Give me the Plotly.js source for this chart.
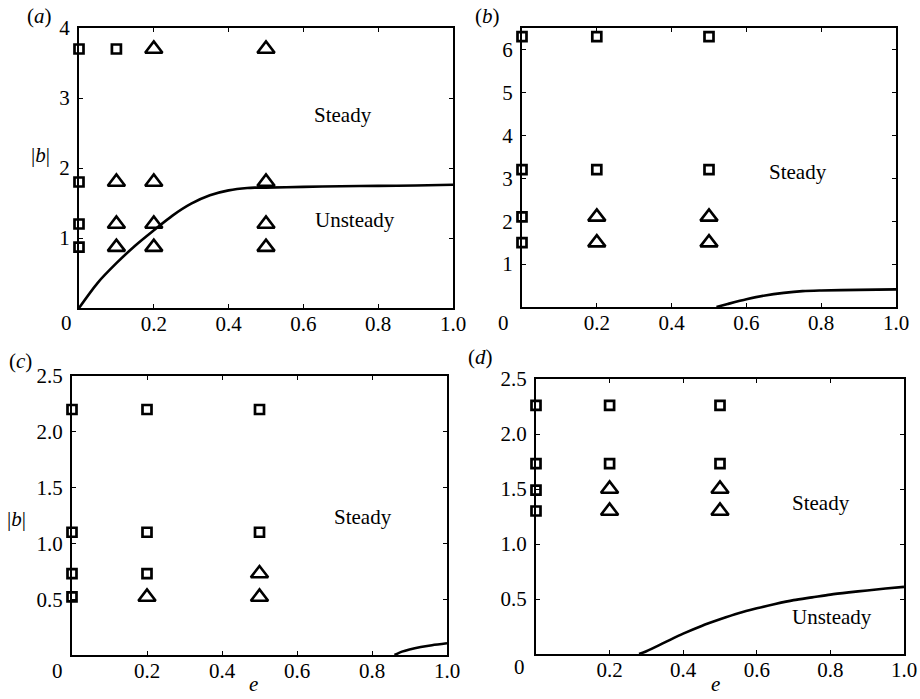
<!DOCTYPE html>
<html>
<head>
<meta charset="utf-8">
<script src="https://cdn.plot.ly/plotly-3.0.1.min.js"></script>
<style>html,body{margin:0;padding:0;background:#fff;}#plot{width:920px;height:699px;}</style>
</head>
<body>
<div id="plot"></div>
<script>
// ---------- data ----------
// panel (a)
const aSquareE = [0, 0.1, 0, 0, 0];
const aSquareB = [3.7, 3.7, 1.8, 1.2, 0.87];
const aTriE = [0.2, 0.5, 0.1, 0.2, 0.5, 0.1, 0.2, 0.5, 0.1, 0.2, 0.5];
const aTriB = [3.7, 3.7, 1.8, 1.8, 1.8, 1.2, 1.2, 1.2, 0.87, 0.87, 0.87];
const aCurveE = [0, 0.05, 0.1, 0.15, 0.2, 0.25, 0.3, 0.35, 0.4, 0.45, 0.47, 0.5, 0.6, 0.7, 0.8, 0.9, 1.0];
const aCurveB = [0, 0.36, 0.64, 0.89, 1.11, 1.32, 1.49, 1.61, 1.68, 1.715, 1.72, 1.72, 1.73, 1.74, 1.745, 1.75, 1.76];
// panel (b)
const bSquareE = [0, 0, 0, 0, 0.2, 0.2, 0.5, 0.5];
const bSquareB = [6.3, 3.2, 2.1, 1.5, 6.3, 3.2, 6.3, 3.2];
const bTriE = [0.2, 0.2, 0.5, 0.5];
const bTriB = [2.1, 1.5, 2.1, 1.5];
const bCurveE = [0.52, 0.55, 0.6, 0.65, 0.7, 0.75, 0.8, 0.9, 1.0];
const bCurveB = [0, 0.07, 0.18, 0.27, 0.33, 0.37, 0.385, 0.4, 0.41];
// panel (c)
const cSquareE = [0, 0, 0, 0, 0.2, 0.2, 0.2, 0.5, 0.5];
const cSquareB = [2.2, 1.1, 0.73, 0.52, 2.2, 1.1, 0.73, 2.2, 1.1];
const cTriE = [0.2, 0.5, 0.5];
const cTriB = [0.52, 0.73, 0.52];
const cCurveE = [0.86, 0.88, 0.9, 0.93, 0.96, 1.0];
const cCurveB = [0, 0.03, 0.05, 0.072, 0.088, 0.105];
// panel (d)
const dSquareE = [0, 0, 0, 0, 0.2, 0.2, 0.5, 0.5];
const dSquareB = [2.26, 1.73, 1.49, 1.3, 2.26, 1.73, 2.26, 1.73];
const dTriE = [0.2, 0.2, 0.5, 0.5];
const dTriB = [1.5, 1.3, 1.5, 1.3];
const dCurveE = [0.28, 0.3, 0.35, 0.4, 0.45, 0.5, 0.55, 0.6, 0.65, 0.7, 0.75, 0.8, 0.85, 0.9, 0.95, 1.0];
const dCurveB = [0, 0.025, 0.105, 0.185, 0.255, 0.315, 0.37, 0.415, 0.455, 0.49, 0.515, 0.54, 0.56, 0.578, 0.595, 0.61];
// ticks
const xTickVals = [0.2, 0.4, 0.6, 0.8, 1.0];
const xTickText = ['0.2', '0.4', '0.6', '0.8', '1.0'];
const yTickValsA = [1, 2, 3, 4];
const yTickTextA = ['1', '2', '3', '4'];
const yTickValsB = [1, 2, 3, 4, 5, 6];
const yTickTextB = ['1', '2', '3', '4', '5', '6'];
const yTickValsCD = [0.5, 1.0, 1.5, 2.0, 2.5];
const yTickTextCD = ['0.5', '1.0', '1.5', '2.0', '2.5'];
const panelLabels = ['(<i>a</i>)', '(<i>b</i>)', '(<i>c</i>)', '(<i>d</i>)'];

// ---------- layout helpers ----------
const W = 920, H = 699;
const FONT = 'Liberation Serif';
const FS = 21;
const fx = p => p / W;
const fy = p => 1 - p / H;

const boxes = [
  {x0: 79, x1: 453, y0: 28, y1: 308},
  {x0: 522, x1: 896, y0: 28, y1: 307},
  {x0: 72, x1: 447, y0: 376, y1: 655},
  {x0: 536, x1: 904, y0: 379, y1: 654}
];

function squares(e, b, ax) {
  return {x: e, y: b, xaxis: 'x' + ax, yaxis: 'y' + ax, type: 'scatter', mode: 'markers', cliponaxis: false,
    marker: {symbol: 'square', size: 9, color: '#fff', line: {color: '#000', width: 2.7}}, hoverinfo: 'skip'};
}
function tris(e, b, ax) {
  return {x: e, y: b, xaxis: 'x' + ax, yaxis: 'y' + ax, type: 'scatter', mode: 'markers', cliponaxis: false,
    marker: {symbol: 'triangle-up', size: 15, color: 'rgba(255,255,255,0)', line: {color: '#000', width: 2.6}}, hoverinfo: 'skip'};
}
function curve(e, b, ax) {
  return {x: e, y: b, xaxis: 'x' + ax, yaxis: 'y' + ax, type: 'scatter', mode: 'lines',
    line: {color: '#000', width: 2.6, shape: 'spline', smoothing: 0.8}, hoverinfo: 'skip'};
}

const data = [
  curve(aCurveE, aCurveB, ''), squares(aSquareE, aSquareB, ''), tris(aTriE, aTriB, ''),
  curve(bCurveE, bCurveB, '2'), squares(bSquareE, bSquareB, '2'), tris(bTriE, bTriB, '2'),
  curve(cCurveE, cCurveB, '3'), squares(cSquareE, cSquareB, '3'), tris(cTriE, cTriB, '3'),
  curve(dCurveE, dCurveB, '4'), squares(dSquareE, dSquareB, '4'), tris(dTriE, dTriB, '4')
];

function xax(i) {
  const bx = boxes[i];
  return {domain: [fx(bx.x0), fx(bx.x1)], range: [0, 1], anchor: i === 0 ? 'y' : 'y' + (i + 1),
    tickmode: 'array', tickvals: xTickVals, ticktext: xTickText,
    ticks: 'inside', ticklen: 4, tickwidth: 1, tickcolor: '#000',
    showline: true, linecolor: '#000', linewidth: 2, mirror: 'ticks',
    showgrid: false, zeroline: false, fixedrange: true,
    tickfont: {family: FONT, size: FS, color: '#000'}, ticklabelstandoff: -4};
}
function yax(i, vals, text, maxv) {
  const bx = boxes[i];
  return {domain: [fy(bx.y1), fy(bx.y0)], range: [0, maxv], anchor: i === 0 ? 'x' : 'x' + (i + 1),
    tickmode: 'array', tickvals: vals, ticktext: text,
    ticks: 'inside', ticklen: 4, tickwidth: 1, tickcolor: '#000',
    showline: true, linecolor: '#000', linewidth: 2, mirror: 'ticks',
    showgrid: false, zeroline: false, fixedrange: true,
    tickfont: {family: FONT, size: FS, color: '#000'}, ticklabelstandoff: 3};
}

function ann(text, x, y, xanchor) {
  return {text: text, x: fx(x), y: fy(y), xref: 'paper', yref: 'paper', showarrow: false,
    xanchor: xanchor || 'center', yanchor: 'middle', font: {family: FONT, size: FS, color: '#000'}};
}
function dataAnn(text, x, y, ax) {
  return {text: text, x: x, y: y, xref: 'x' + ax, yref: 'y' + ax, showarrow: false,
    xanchor: 'center', yanchor: 'middle', font: {family: FONT, size: FS, color: '#000'}};
}

const annotations = [
  ann(panelLabels[0], 39, 16), ann(panelLabels[1], 487, 16),
  ann(panelLabels[2], 20, 361), ann(panelLabels[3], 480, 357),
  ann('0', 66, 323), ann('0', 503, 323), ann('0', 57, 671), ann('0', 519, 667),
  ann('|<i>b</i>|', 40, 155), ann('|<i>b</i>|', 16, 519),
  ann('<i>e</i>', 253, 684), ann('<i>e</i>', 715, 684),
  dataAnn('Steady', 0.705, 2.76, ''), dataAnn('Unsteady', 0.737, 1.26, ''),
  dataAnn('Steady', 0.738, 3.15, '2'),
  dataAnn('Steady', 0.776, 1.24, '3'),
  dataAnn('Steady', 0.774, 1.37, '4'), dataAnn('Unsteady', 0.804, 0.34, '4')
];

const layout = {
  width: W, height: H, margin: {l: 0, r: 0, t: 0, b: 0, pad: 0},
  paper_bgcolor: '#fff', plot_bgcolor: '#fff', showlegend: false,
  font: {family: FONT, size: FS, color: '#000'},
  xaxis: xax(0), yaxis: yax(0, yTickValsA, yTickTextA, 4),
  xaxis2: xax(1), yaxis2: yax(1, yTickValsB, yTickTextB, 6.5),
  xaxis3: xax(2), yaxis3: yax(2, yTickValsCD, yTickTextCD, 2.5),
  xaxis4: xax(3), yaxis4: yax(3, yTickValsCD, yTickTextCD, 2.5),
  annotations: annotations
};

Plotly.newPlot('plot', data, layout, {staticPlot: true, displayModeBar: false});
</script>
</body>
</html>
